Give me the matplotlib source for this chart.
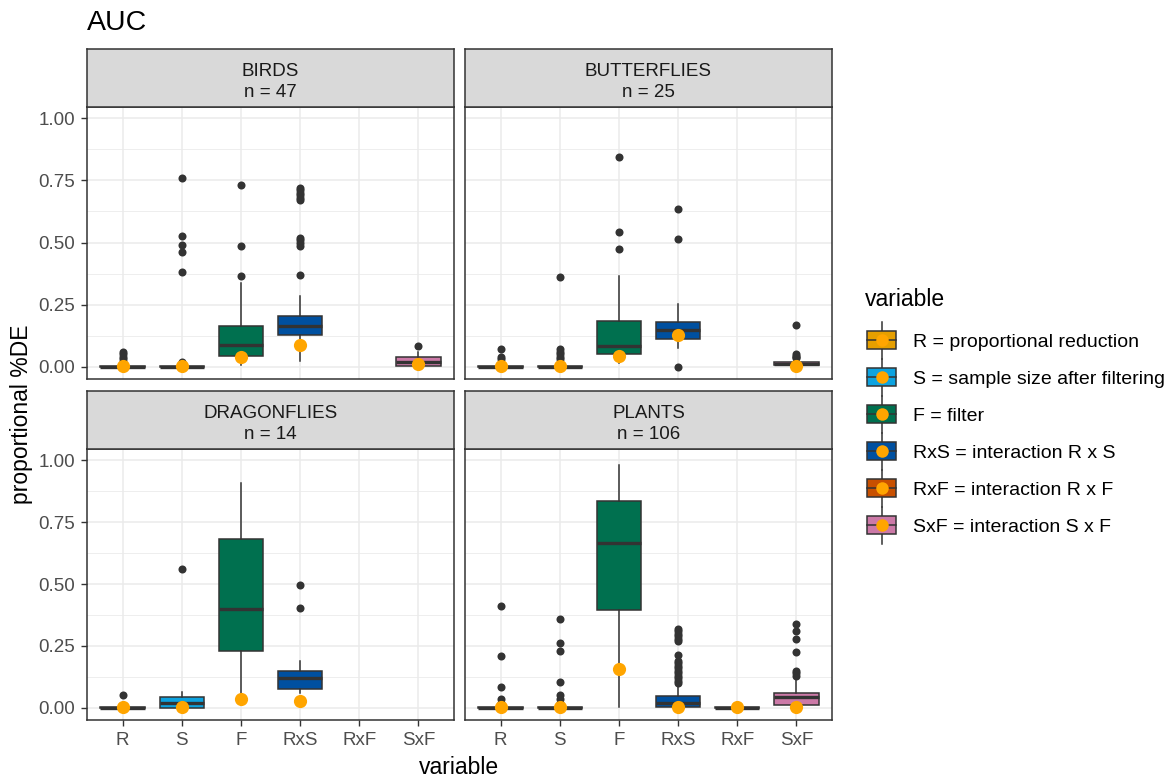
"""
AUC: proportional %DE per variable, faceted by taxon.
"""

import matplotlib.pyplot as plt
from matplotlib.legend_handler import HandlerBase
from matplotlib.patches import Rectangle, Patch
from matplotlib.lines import Line2D

plt.rcParams["font.family"] = ["Liberation Sans", "DejaVu Sans"]

variables = ["R", "S", "F", "RxS", "RxF", "SxF"]
legend_labels = [
    "R = proportional reduction",
    "S = sample size after filtering",
    "F = filter",
    "RxS = interaction R x S",
    "RxF = interaction R x F",
    "SxF = interaction S x F",
]
fill_colors = ["#E69F00", "#0DA3E0", "#00704F", "#0050A0", "#C85000", "#CC79A7"]

taxa = ["BIRDS", "BUTTERFLIES", "DRAGONFLIES", "PLANTS"]
counts = [47, 25, 14, 106]

# box per variable: [whisker low, q1, median, q3, whisker high], None = no data
birds_box = [
    [0, 0, 0, 0.002, 0.005],
    [0, 0, 0, 0.002, 0.005],
    [0.008, 0.045, 0.088, 0.166, 0.336],
    [0.025, 0.128, 0.165, 0.205, 0.283],
    None,
    [0.0, 0.005, 0.021, 0.041, 0.06],
]
birds_out = [
    [0.02, 0.03, 0.04, 0.05, 0.06],
    [0.02, 0.38, 0.46, 0.49, 0.525, 0.76],
    [0.365, 0.485, 0.73],
    [0.37, 0.485, 0.50, 0.51, 0.52, 0.67, 0.68, 0.69, 0.70, 0.71, 0.72],
    [],
    [0.085],
]
birds_mean = [0.003, 0.003, 0.041, 0.088, None, 0.01]

butterflies_box = [
    [0, 0, 0, 0.002, 0.005],
    [0, 0, 0, 0.002, 0.005],
    [0.015, 0.052, 0.082, 0.186, 0.367],
    [0.075, 0.111, 0.149, 0.182, 0.253],
    None,
    [0.005, 0.008, 0.012, 0.02, 0.025],
]
butterflies_out = [
    [0.03, 0.04, 0.07],
    [0.03, 0.04, 0.05, 0.06, 0.07, 0.36],
    [0.473, 0.543, 0.842],
    [0.0, 0.513, 0.633],
    [],
    [0.035, 0.04, 0.045, 0.05, 0.167],
]
butterflies_mean = [0.003, 0.003, 0.044, 0.128, None, 0.003]

dragonflies_box = [
    [0, 0, 0, 0.002, 0.005],
    [0.0, 0.001, 0.019, 0.045, 0.065],
    [0.045, 0.23, 0.40, 0.683, 0.909],
    [0.059, 0.078, 0.119, 0.15, 0.189],
    None,
    None,
]
dragonflies_out = [[0.052], [0.562], [], [0.403, 0.498], [], []]
dragonflies_mean = [0.003, 0.005, 0.036, 0.029, None, None]

plants_box = [
    [0, 0, 0, 0.002, 0.005],
    [0, 0, 0, 0.002, 0.005],
    [0.005, 0.394, 0.667, 0.835, 0.979],
    [0.0, 0.005, 0.02, 0.046, 0.092],
    [0, 0, 0, 0.002, 0.005],
    [0.0, 0.012, 0.042, 0.059, 0.12],
]
plants_out = [
    [0.02, 0.035, 0.084, 0.21, 0.41],
    [0.02, 0.035, 0.05, 0.103, 0.229, 0.26, 0.357],
    [],
    [0.10, 0.11, 0.12, 0.13, 0.14, 0.15, 0.16, 0.17, 0.18, 0.19, 0.215,
     0.27, 0.28, 0.29, 0.30, 0.31, 0.32],
    [],
    [0.13, 0.14, 0.15, 0.224, 0.28, 0.31, 0.34],
]
plants_mean = [0.003, 0.003, 0.157, 0.003, 0.003, 0.005]

W, H = 1169, 780
DARK = "#333333"


def frac(x0, y0, x1, y1):
    # pixel box (top-left origin) -> figure fraction rect
    return [x0 / W, 1 - y1 / H, (x1 - x0) / W, (y1 - y0) / H]


class BoxKey(HandlerBase):
    def create_artists(self, legend, handle, xd, yd, width, height, fontsize, trans):
        x0, y0 = -xd, -yd
        cx, cy = x0 + width / 2, y0 + height / 2
        bh = height * 0.335
        wl = height * 0.68
        whisk = Line2D([cx, cx], [cy - wl, cy + wl], color=DARK, lw=1.1, transform=trans)
        box = Rectangle((x0 + 1, cy - bh), width - 2, 2 * bh,
                        facecolor=handle.get_facecolor(), edgecolor=DARK, lw=1.1,
                        transform=trans)
        med = Line2D([x0 + 1, x0 + width - 1], [cy, cy], color=DARK, lw=1.1, transform=trans)
        dot = Line2D([cx], [cy], marker="o", ms=9, color="#FFA500", mec="none",
                     transform=trans)
        return [whisk, box, med, dot]


def draw_panel(ax, boxes, outliers, means):
    stats, pos, cols = [], [], []
    for i, b in enumerate(boxes):
        if b is None:
            continue
        stats.append(dict(whislo=b[0], q1=b[1], med=b[2], q3=b[3], whishi=b[4],
                          fliers=outliers[i]))
        pos.append(i + 1)
        cols.append(fill_colors[i])
    art = ax.bxp(stats, positions=pos, widths=0.75, patch_artist=True,
                 showcaps=False, manage_ticks=False,
                 boxprops=dict(edgecolor=DARK, lw=1.1),
                 whiskerprops=dict(color=DARK, lw=1.1),
                 medianprops=dict(color=DARK, lw=2.4),
                 flierprops=dict(marker="o", ms=5.8, markerfacecolor=DARK,
                                 markeredgecolor="none"))
    for patch, c in zip(art["boxes"], cols):
        patch.set_facecolor(c)
    for i, m in enumerate(means):
        if m is not None:
            ax.plot(i + 1, m, "o", ms=9.5, color="#FFA500", mec="none", zorder=5)

    ax.set_xlim(0.4, 6.6)
    ax.set_ylim(-0.049, 1.045)
    ax.set_xticks(range(1, 7))
    ax.set_xticklabels(variables)
    ax.set_yticks([0, 0.25, 0.5, 0.75, 1.0])
    ax.set_yticklabels(["0.00", "0.25", "0.50", "0.75", "1.00"])
    ax.set_yticks([0.125, 0.375, 0.625, 0.875], minor=True)
    ax.grid(True, which="major", color="#EBEBEB", lw=1.1)
    ax.grid(True, which="minor", axis="y", color="#EBEBEB", lw=0.6)
    ax.set_axisbelow(True)
    ax.tick_params(which="major", colors=DARK, labelcolor="#4D4D4D", labelsize=13.5,
                   length=4, width=1, pad=4.5)
    ax.tick_params(which="minor", length=0)
    for s in ax.spines.values():
        s.set_color(DARK)
        s.set_linewidth(1.1)


def strip(fig, rect, text):
    sax = fig.add_axes(rect)
    sax.set_facecolor("#D9D9D9")
    sax.set_xticks([])
    sax.set_yticks([])
    for s in sax.spines.values():
        s.set_color(DARK)
        s.set_linewidth(1.1)
    sax.text(0.5, 0.43, text, ha="center", va="center", fontsize=13.5,
             color="#1A1A1A", linespacing=1.26, transform=sax.transAxes)


def main():
    fig = plt.figure(figsize=(W / 100, H / 100), dpi=100)

    panels = [
        (birds_box, birds_out, birds_mean),
        (butterflies_box, butterflies_out, butterflies_mean),
        (dragonflies_box, dragonflies_out, dragonflies_mean),
        (plants_box, plants_out, plants_mean),
    ]
    cols_px = [(87, 454), (465, 832)]
    rows_px = [(49, 107, 379), (391, 449, 720)]

    for k, (boxes, outs, means) in enumerate(panels):
        r, c = divmod(k, 2)
        x0, x1 = cols_px[c]
        st, top, bot = rows_px[r]
        ax = fig.add_axes(frac(x0, top, x1, bot))
        draw_panel(ax, boxes, outs, means)
        if c == 1:
            ax.tick_params(axis="y", which="both", left=False, labelleft=False)
        if r == 0:
            ax.tick_params(axis="x", bottom=False, labelbottom=False)
        strip(fig, frac(x0, st, x1, top), f"{taxa[k]}\nn = {counts[k]}")

    fig.text(87 / W, 1 - 23 / H, "AUC", fontsize=20.5, color="black", va="center")
    fig.text(459 / W, 1 - 768 / H, "variable", fontsize=16.5, ha="center", va="center")
    fig.text(22 / W, 1 - 414 / H, "proportional %DE", fontsize=16.5, rotation=90,
             ha="center", va="center")

    # legend: title as plain text, keys drawn by BoxKey
    fig.text(865 / W, 1 - 300 / H, "variable", fontsize=16.5, ha="left", va="center")
    handles = [Patch(facecolor=c) for c in fill_colors]
    fig.legend(handles, legend_labels, loc="upper left",
               bbox_to_anchor=(866 / W, 1 - 327 / H), frameon=False,
               fontsize=14, handler_map={Patch: BoxKey()}, handlelength=1.6,
               handleheight=1.75, labelspacing=0.52, handletextpad=0.82,
               borderpad=0, borderaxespad=0)

    fig.savefig("out.png", dpi=100)


if __name__ == "__main__":
    main()
